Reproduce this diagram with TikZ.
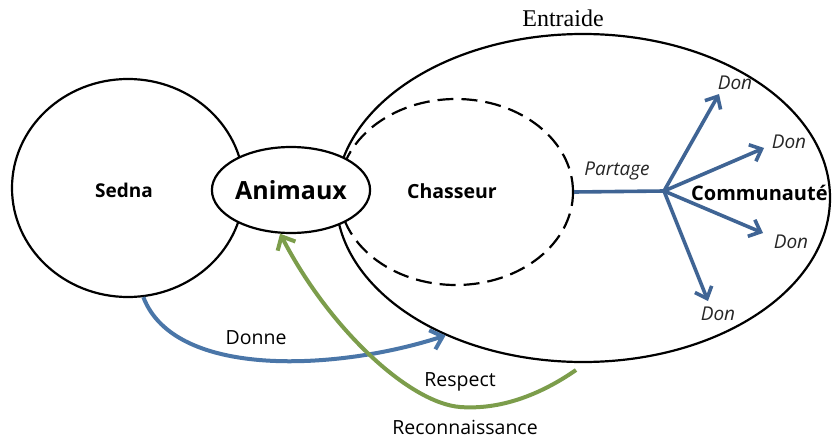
\documentclass[tikz,border=0pt]{standalone}
\usepackage{fontspec}
\setmainfont{Liberation Serif}
\setsansfont{Open Sans}
\usetikzlibrary{shapes.geometric,arrows.meta}
\definecolor{donblue}{HTML}{3F6494}
\definecolor{donneblue}{HTML}{4A76A8}
\definecolor{respgreen}{HTML}{7C9D4B}
\tikzset{
  outl/.style={ellipse,draw=black,line width=2.2pt,inner sep=0pt},
  itl/.style={font=\sffamily\itshape\fontsize{19}{19}\selectfont,text=black!85,inner sep=0pt},
  plain/.style={font=\sffamily\fontsize{19.5}{19.5}\selectfont,inner sep=0pt},
  donarrow/.style={draw=donblue,line width=3.6pt,-{Straight Barb[length=10pt,width=18pt,line width=3.6pt]}},
}
\begin{document}
\begin{tikzpicture}[x=1pt,y=-1pt]
\useasboundingbox (0,0) rectangle (832,439);
\fill[white] (0,0) rectangle (832,439);
% Sedna
\node[outl,minimum width=232pt,minimum height=218pt] (sedna) at (128,188) {};
\node[font=\sffamily\bfseries\fontsize{19}{19}\selectfont,inner sep=0pt] (sednat) at (124,190) {Sedna};
% Entraide big ellipse
\node[outl,minimum width=494pt,minimum height=328pt] (ent) at (583,198) {};
\node[font=\fontsize{24}{24}\selectfont,inner sep=0pt] (entt) at (563,18) {Entraide};
% Chasseur dashed
\node[outl,dash pattern=on 16pt off 8pt,minimum width=234pt,minimum height=186pt] (chas) at (456,192) {};
\node[font=\sffamily\bfseries\fontsize{19.5}{19.5}\selectfont,inner sep=0pt] (chast) at (452,191) {Chasseur};
% Animaux
\node[outl,fill=white,minimum width=158pt,minimum height=86pt,font=\sffamily\bfseries\fontsize{25}{25}\selectfont] (anim) at (291,190) {Animaux};
% Communaute
\node[anchor=west,inner sep=0pt,font=\sffamily\bfseries\fontsize{20}{20}\selectfont] (comm) at (691,193) {Communauté};
% Partage
\coordinate (hub) at (664,191);
\draw[draw=donblue,line width=3.6pt] (chas.east) -- (hub);
\node[itl] (part) at (617,171) {Partage};
% Don arrows
\coordinate (d1) at (719,94);
\coordinate (d2) at (764,148);
\coordinate (d3) at (763,233);
\coordinate (d4) at (708,301);
\draw[donarrow] (hub) -- (d1);
\draw[donarrow] (hub) -- (d2);
\draw[donarrow] (hub) -- (d3);
\draw[donarrow] (hub) -- (d4);
\node[itl] (don1) at (735,83) {Don};
\node[itl] (don2) at (789,142) {Don};
\node[itl] (don3) at (791,242) {Don};
\node[itl] (don4) at (718,314) {Don};
% Donne arrow
\draw[draw=donneblue,line width=4pt,-{Straight Barb[length=11pt,width=20pt,line width=4pt]}]
  (sedna.-82) .. controls (175,380) and (340,370) .. (ent.-135.8);
\node[plain] (donne) at (256,338) {Donne};
% Respect arrow
\coordinate (rs) at (576,370);
\coordinate (rb) at (460,407);
\draw[draw=respgreen,line width=4pt,-{Straight Barb[length=11pt,width=20pt,line width=4pt]}]
  (rs) .. controls (540,395) and (500,410) .. (rb) .. controls (410,403) and (330,330) .. (anim.-104);
\node[plain] (resp) at (460,382) {Respect};
\node[plain] (reco) at (465,427) {Reconnaissance};
\end{tikzpicture}
\end{document}
